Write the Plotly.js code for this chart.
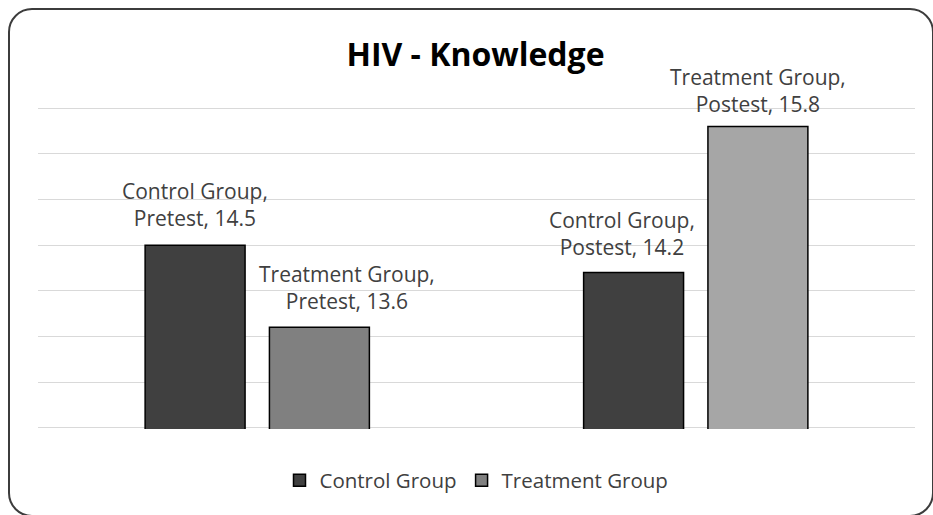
<!DOCTYPE html>
<html>
<head>
<meta charset="utf-8">
<script src="https://cdn.plot.ly/plotly-3.0.1.min.js"></script>
<style>
  html, body { margin: 0; padding: 0; background: #ffffff; overflow: hidden; }
  #chart { position: absolute; left: 0; top: 0; width: 933px; height: 515px; }
  #frame {
    position: absolute; left: 8px; top: 8px; width: 926px; height: 509px;
    box-sizing: border-box; border: 2px solid #3c3c3c; border-radius: 24px;
    pointer-events: none; z-index: 5;
  }
</style>
</head>
<body>
<div id="chart"></div>
<div id="frame"></div>
<script>
// ---- data ----
const categories = ['Pretest', 'Postest'];
const seriesNames = ['Control Group', 'Treatment Group'];
const controlValues = [14.5, 14.2];
const treatmentValues = [13.6, 15.8];
const chartTitle = 'HIV - Knowledge';

// ---- styling ----
const fontFamily = '"Open Sans", "Noto Sans", sans-serif';
const bargap = 0.433;
const bargroupgap = 0.196;
const seriesValues = [controlValues, treatmentValues];
const seriesColors = [['#404040', '#404040'], ['#808080', '#a6a6a6']];
// label nudges (pixels) per [series][category], as placed in the original chart
const labelXShift = [[0, -12], [28, 0]];
const labelYShift = [[11, 10], [10, 7]];

const traces = seriesNames.map((name, i) => ({
  type: 'bar',
  name: name,
  x: categories,
  y: seriesValues[i],
  marker: { color: seriesColors[i], line: { color: '#000000', width: 1.5 } },
  hoverinfo: 'none'
}));

const offset = (1 - bargap) / 4;
const annotations = [];
seriesNames.forEach((name, i) => {
  categories.forEach((cat, j) => {
    annotations.push({
      xref: 'x', yref: 'y',
      x: j + (i === 0 ? -offset : offset),
      y: seriesValues[i][j],
      text: name + ',<br>' + cat + ', ' + seriesValues[i][j],
      showarrow: false,
      xanchor: 'center', yanchor: 'bottom',
      xshift: labelXShift[i][j],
      yshift: labelYShift[i][j],
      font: { family: fontFamily, size: 21, color: '#404040' }
    });
  });
});

const layout = {
  width: 933, height: 515,
  margin: { l: 38, r: 18, t: 106.63, b: 85.63, pad: 0 },
  paper_bgcolor: '#ffffff', plot_bgcolor: '#ffffff',
  title: {
    text: '<b>' + chartTitle + '</b>',
    xref: 'container', yref: 'container',
    x: 475.5 / 933, xanchor: 'center',
    y: 1 - 55 / 515, yanchor: 'middle',
    font: { family: fontFamily, size: 32, color: '#000000' }
  },
  barmode: 'group',
  bargap: bargap,
  bargroupgap: bargroupgap,
  xaxis: {
    type: 'category', showticklabels: false, showgrid: false,
    zeroline: false, showline: false, ticks: '', range: [-0.5, 1.5], fixedrange: true
  },
  yaxis: {
    range: [12.485, 16.015], dtick: 0.5, tick0: 12.5,
    showticklabels: false, showgrid: true, gridcolor: '#d9d9d9', gridwidth: 1,
    zeroline: false, showline: false, ticks: '', fixedrange: true
  },
  showlegend: true,
  legend: {
    orientation: 'h',
    x: 0.5, xanchor: 'center',
    y: -0.16, yanchor: 'middle',
    font: { family: fontFamily, size: 20.5, color: '#404040' },
    bgcolor: 'rgba(0,0,0,0)'
  },
  annotations: annotations
};

Plotly.newPlot('chart', traces, layout, { displayModeBar: false, staticPlot: true });
</script>
</body>
</html>
